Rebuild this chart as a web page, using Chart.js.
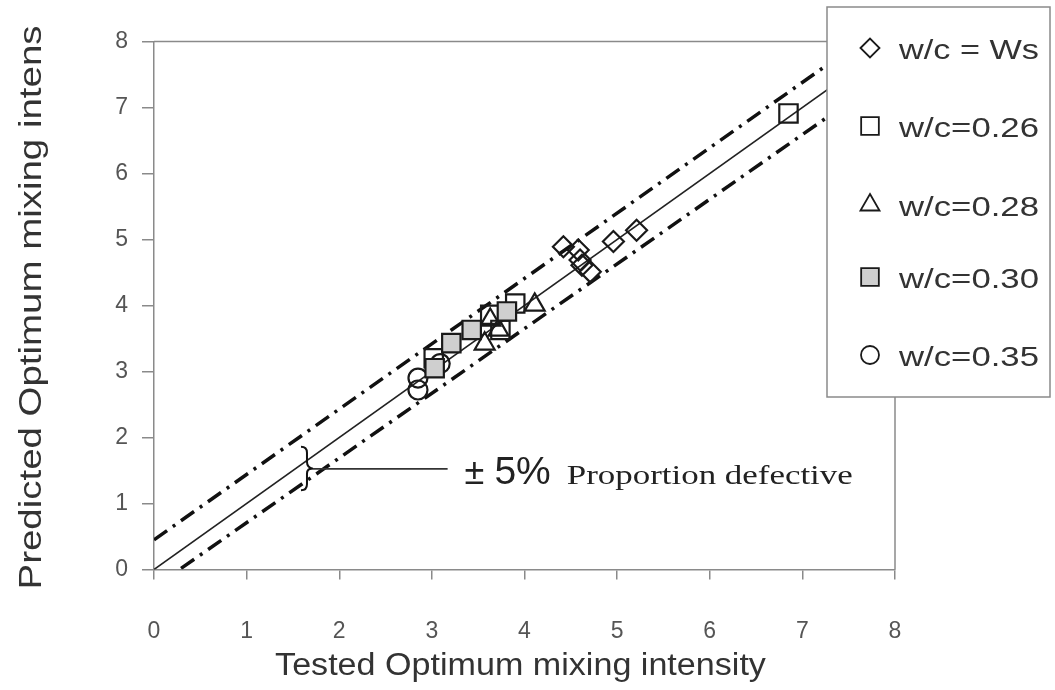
<!DOCTYPE html>
<html><head><meta charset="utf-8">
<script src="https://cdn.jsdelivr.net/npm/chart.js@4.4.1/dist/chart.umd.min.js"></script>
<style>html,body{margin:0;padding:0;background:#fff;}#wrap{width:1055px;height:690px;position:relative;}</style>
</head><body><div id="wrap"><canvas id="c" width="1055" height="690"></canvas></div>
<script>
// ---- data ----
const seriesNames = ['w/c = Ws', 'w/c=0.26', 'w/c=0.28', 'w/c=0.30', 'w/c=0.35'];
const wsTested      = [4.42, 4.58, 4.60, 4.62, 4.71, 4.96, 5.21];
const wsPredicted   = [4.89, 4.84, 4.69, 4.61, 4.51, 4.97, 5.14];
const w026Tested    = [3.02, 3.63, 3.74, 3.90, 6.85];
const w026Predicted = [3.20, 3.86, 3.63, 4.03, 6.91];
const w028Tested    = [3.57, 3.63, 3.72, 4.11];
const w028Predicted = [3.42, 3.78, 3.63, 4.01];
const w030Tested    = [3.03, 3.21, 3.43, 3.81];
const w030Predicted = [3.05, 3.43, 3.63, 3.91];
const w035Tested    = [2.85, 2.85, 3.09];
const w035Predicted = [2.90, 2.72, 3.12];
// reference lines (tested -> predicted)
const refX      = [0, 8];
const equalityY = [0, 8];
const upperY    = [0.45, 8.37];
const lowerY    = [-0.27, 7.57];
// brace annotation (data units)
const braceX = 1.63, braceTop = 1.86, braceMid = 1.54, braceBottom = 1.20, leaderEnd = 3.17;
const annotationText = ['\u00b1', '5%', 'Proportion defective'];
const xTitle = 'Tested Optimum mixing intensity';
const yTitle = 'Predicted Optimum mixing intens';
const axisMin = 0, axisMax = 8;

const zip = (xs, ys) => xs.map((x, i) => ({x: x, y: ys[i]}));
const INK = '#1a1a1a';
const clear = 'rgba(255,255,255,0)';

const markerStyles = [
  {pointStyle: 'rectRot', radius: 10.5, bg: clear, legendR: 9.5},
  {pointStyle: 'rect', radius: 13, bg: clear, legendR: 12.5},
  {pointStyle: 'triangle', radius: 11.5, bg: clear, legendR: 11},
  {pointStyle: 'rect', radius: 13, bg: '#cfcfcf', legendR: 12.5},
  {pointStyle: 'circle', radius: 9.5, bg: clear, legendR: 9}
];
const seriesData = [
  zip(wsTested, wsPredicted), zip(w026Tested, w026Predicted), zip(w028Tested, w028Predicted),
  zip(w030Tested, w030Predicted), zip(w035Tested, w035Predicted)
];
const orders = [3, 4, 2, 1, 5];

const datasets = seriesData.map((d, i) => ({
  label: seriesNames[i], data: d, showLine: false,
  pointStyle: markerStyles[i].pointStyle, pointRadius: markerStyles[i].radius,
  pointBackgroundColor: markerStyles[i].bg, pointBorderColor: INK, pointBorderWidth: 2.2,
  order: orders[i]
}));
datasets.push({label: 'equality', data: zip(refX, equalityY), showLine: true, borderColor: '#222', borderWidth: 1.6, pointRadius: 0, order: 10});
datasets.push({label: 'upper', data: zip(refX, upperY), showLine: true, borderColor: '#111', borderWidth: 3.5, borderDash: [16, 7, 3, 7], pointRadius: 0, order: 11});
datasets.push({label: 'lower', data: zip(refX, lowerY), showLine: true, borderColor: '#111', borderWidth: 3.5, borderDash: [16, 7, 3, 7], pointRadius: 0, order: 12});

const decor = {
  id: 'decor',
  afterDatasetsDraw(chart) {
    const ctx = chart.ctx, a = chart.chartArea, xs = chart.scales.x, ys = chart.scales.y;
    ctx.save();
    // top and right frame
    ctx.strokeStyle = '#8a8a8a'; ctx.lineWidth = 1.5;
    ctx.beginPath(); ctx.moveTo(a.left, a.top); ctx.lineTo(a.right, a.top); ctx.lineTo(a.right, a.bottom); ctx.stroke();
    // brace
    const bx = xs.getPixelForValue(braceX);
    const yt = ys.getPixelForValue(braceTop), ym = ys.getPixelForValue(braceMid), yb = ys.getPixelForValue(braceBottom);
    const xl = bx - 4, xsr = bx + 2, xt = bx + 8;
    ctx.strokeStyle = '#111'; ctx.lineWidth = 2;
    ctx.beginPath();
    ctx.moveTo(xl, yt);
    ctx.quadraticCurveTo(xsr, yt, xsr, yt + 6);
    ctx.lineTo(xsr, ym - 6);
    ctx.quadraticCurveTo(xsr, ym, xt, ym + 1);
    ctx.moveTo(xt, ym + 1);
    ctx.quadraticCurveTo(xsr, ym, xsr, ym + 6);
    ctx.lineTo(xsr, yb - 6);
    ctx.quadraticCurveTo(xsr, yb, xl, yb);
    ctx.stroke();
    // leader line
    const lineEnd = xs.getPixelForValue(leaderEnd);
    ctx.lineWidth = 1.8; ctx.strokeStyle = '#333';
    ctx.beginPath(); ctx.moveTo(xt, ym + 1); ctx.lineTo(lineEnd, ym + 1); ctx.stroke();
    // annotation text
    const tx = lineEnd + 17, base = ym + 16;
    ctx.fillStyle = '#222'; ctx.textBaseline = 'alphabetic'; ctx.textAlign = 'left';
    ctx.font = '36px "Liberation Sans"';
    ctx.fillText(annotationText[0], tx, base);
    const pmW = ctx.measureText(annotationText[0]).width;
    ctx.font = '39px "Liberation Sans"';
    const x5 = tx + pmW + 10;
    ctx.fillText(annotationText[1], x5, base);
    const pW = ctx.measureText(annotationText[1]).width;
    ctx.font = '28px "Liberation Serif"';
    const tw = ctx.measureText(annotationText[2]).width;
    ctx.save();
    const px0 = x5 + pW + 16;
    ctx.translate(px0, base); ctx.scale(286 / tw, 1);
    ctx.fillText(annotationText[2], 0, 0);
    ctx.restore();
    // axis titles
    ctx.fillStyle = '#333';
    ctx.font = '31px "Liberation Sans"'; ctx.textAlign = 'center'; ctx.textBaseline = 'middle';
    ctx.save(); ctx.translate((a.left + a.right) / 2 - 4, 666); ctx.scale(1.1, 1); ctx.fillText(xTitle, 0, 0); ctx.restore();
    ctx.save(); ctx.translate(32, (a.top + a.bottom) / 2 + 2); ctx.rotate(-Math.PI / 2); ctx.scale(1.24, 1); ctx.fillText(yTitle, 0, 0); ctx.restore();
    ctx.restore();
  },
  afterDraw(chart) {
    const ctx = chart.ctx;
    ctx.save();
    // legend box
    const L = 827, T = 7, R = 1050, B = 397;
    ctx.fillStyle = '#fff'; ctx.fillRect(L, T, R - L, B - T);
    ctx.strokeStyle = '#8a8a8a'; ctx.lineWidth = 1.5; ctx.strokeRect(L, T, R - L, B - T);
    const rowsY = [48, 126, 205, 277, 355];
    ctx.font = '27px "Liberation Sans"'; ctx.textAlign = 'left'; ctx.textBaseline = 'middle';
    seriesNames.forEach((name, i) => {
      const ms = markerStyles[i];
      ctx.strokeStyle = INK; ctx.fillStyle = ms.bg; ctx.lineWidth = 1.8;
      Chart.helpers.drawPoint(ctx, {pointStyle: ms.pointStyle, radius: ms.legendR, rotation: 0, borderWidth: 1.8}, 870, rowsY[i]);
      ctx.fillStyle = '#333';
      const w = ctx.measureText(name).width;
      ctx.save(); ctx.translate(899, rowsY[i] + 4); ctx.scale(140 / w, 1); ctx.fillText(name, 0, 0); ctx.restore();
    });
    ctx.restore();
  }
};

const tickFont = {family: 'Liberation Sans', size: 23};
new Chart(document.getElementById('c').getContext('2d'), {
  type: 'scatter',
  data: {datasets: datasets},
  options: {
    responsive: false, animation: false,
    layout: {padding: {left: 0, right: 160, top: 41.5, bottom: 0}},
    plugins: {legend: {display: false}, tooltip: {enabled: false}},
    scales: {
      x: {
        type: 'linear', min: axisMin, max: axisMax,
        ticks: {stepSize: 1, padding: 38, font: tickFont, color: '#555'},
        grid: {drawOnChartArea: false, drawTicks: true, tickLength: 10, color: '#8a8a8a', lineWidth: 1.5},
        border: {color: '#8a8a8a', width: 1.5},
        afterFit: s => { s.height = 690 - 569.5; }
      },
      y: {
        type: 'linear', min: axisMin, max: axisMax,
        ticks: {stepSize: 1, padding: 14, font: tickFont, color: '#555'},
        grid: {drawOnChartArea: false, drawTicks: true, tickLength: 12, color: '#8a8a8a', lineWidth: 1.5},
        border: {color: '#8a8a8a', width: 1.5},
        afterFit: s => { s.width = 154; }
      }
    }
  },
  plugins: [decor]
});
</script></body></html>
